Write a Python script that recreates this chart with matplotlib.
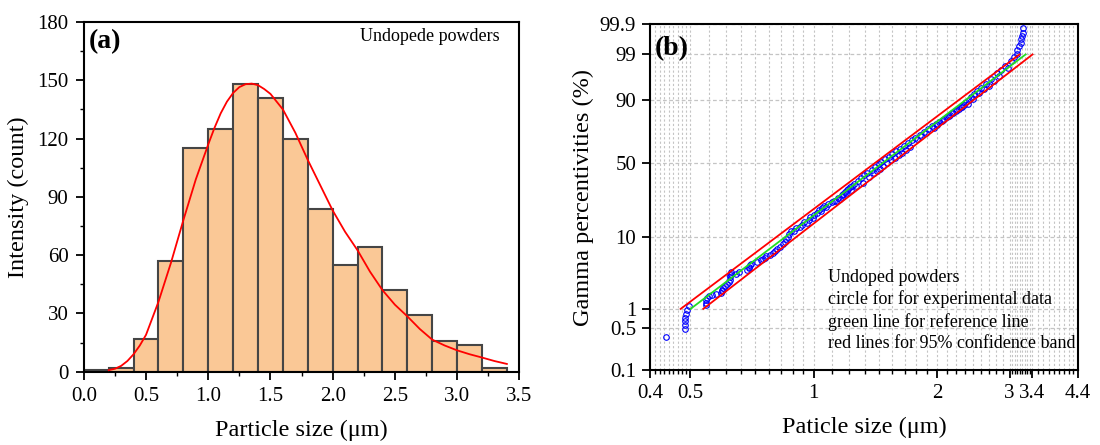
import numpy as np
import matplotlib
matplotlib.use('Agg')
import matplotlib.pyplot as plt
from matplotlib.ticker import FixedLocator, FixedFormatter, NullLocator, NullFormatter
from statistics import NormalDist

plt.rcParams['font.family'] = 'serif'
plt.rcParams['font.serif'] = ['Liberation Serif', 'DejaVu Serif']
plt.rcParams['mathtext.fontset'] = 'stix'

# ---- (a) histogram data ----
bin_left = [0.0, 0.2, 0.4, 0.6, 0.8, 1.0, 1.2, 1.4, 1.6, 1.8, 2.0, 2.2, 2.4, 2.6, 2.8, 3.0, 3.2]
counts = [1, 2, 17, 57, 115, 125, 148, 141, 120, 84, 55, 64, 42, 29, 16, 14, 2]

# fitted curve
fit_x = [0.2, 0.25, 0.3, 0.35, 0.4, 0.45, 0.5, 0.6, 0.7, 0.8, 0.9, 1.0, 1.05, 1.1, 1.15, 1.2,
         1.25, 1.3, 1.35, 1.4, 1.45, 1.5, 1.6, 1.7, 1.8, 1.9, 2.0, 2.1, 2.2, 2.3, 2.4, 2.5,
         2.6, 2.7, 2.8, 2.9, 3.0, 3.1, 3.2, 3.3, 3.4]
fit_y = [0.8, 1.5, 3, 5.5, 9, 13.5, 19, 36, 56, 78, 99, 117, 125.5, 133, 139, 143.5,
         146.5, 148, 148.3, 147.5, 145.5, 143, 135, 123, 109, 96, 83, 72, 62.5, 51.5, 42, 34.5,
         28.5, 22, 16.5, 13.5, 11, 9, 7.3, 5.5, 4]

# ---- (b) gamma probability plot data ----
size_pts = [0.438, 0.488, 0.488, 0.488, 0.488, 0.489, 0.492, 0.497,
            0.546, 0.546, 0.547, 0.549, 0.556, 0.566, 0.578, 0.594, 0.598, 0.600, 0.603, 0.608,
            0.615, 0.622, 0.625, 0.626, 0.627, 0.628, 0.630, 0.647, 0.659, 0.690, 0.695, 0.697,
            0.700, 0.703, 0.730, 0.745, 0.755, 0.762, 0.768, 0.785, 0.797, 0.808, 0.815, 0.830,
            0.842, 0.850, 0.858, 0.865,
            0.870, 0.896, 0.908, 0.935, 0.948, 0.975, 0.982, 1.003, 1.018, 1.030, 1.050, 1.062,
            1.085, 1.110, 1.132, 1.160, 1.175, 1.172, 1.180, 1.192, 1.205, 1.215, 1.230, 1.242,
            1.255, 1.280, 1.305, 1.328, 1.352, 1.385, 1.412, 1.440, 1.462, 1.490, 1.525, 1.556,
            1.590, 1.625, 1.660, 1.695, 1.735, 1.770, 1.815, 1.855, 1.900, 1.940, 1.985, 2.020,
            2.050, 2.080, 2.110, 2.150, 2.190, 2.225, 2.255, 2.285, 2.320, 2.355, 2.390, 2.420,
            2.455, 2.500, 2.560, 2.625, 2.700, 2.790, 2.860, 2.930, 3.020, 3.080,
            3.12, 3.13, 3.17, 3.19, 3.20, 3.21, 3.225, 3.24,
            # second row of overlapping circles in the dense band
            0.880, 0.925, 0.962, 0.995, 1.040, 1.075, 1.120, 1.150, 1.200, 1.235, 1.268, 1.318,
            1.365, 1.400, 1.425, 1.452, 1.478, 1.505, 1.540, 1.575, 1.610, 1.645, 1.680, 1.715,
            1.790, 1.830, 1.880, 1.960, 2.000, 2.070, 2.130, 2.175, 2.240, 2.300, 2.370, 2.440,
            2.530, 2.600, 2.665, 2.750, 2.830, 2.980]
pct_pts = [0.35, 0.48, 0.56, 0.64, 0.73, 0.83, 0.97, 1.1,
           1.15, 1.25, 1.38, 1.48, 1.55, 1.62, 1.66, 1.72, 1.85, 1.95, 2.1, 2.25,
           2.4, 2.55, 2.75, 2.95, 3.15, 3.35, 3.5, 3.35, 3.5, 3.7, 3.95, 4.15,
           4.4, 4.6, 4.8, 5.1, 5.3, 5.5, 5.8, 6.0, 6.4, 6.8, 7.2, 7.6,
           8.2, 8.8, 9.5, 10.2,
           11, 12, 13, 14, 15, 16, 17, 18, 19, 20, 21, 22,
           23, 24, 25, 26, 27, 28, 29, 30, 31, 32, 33, 34,
           35, 37, 39, 41, 43, 45, 47, 49, 51, 53, 55, 57,
           59, 61, 63, 65, 67, 69, 71, 73, 75, 76.5, 78, 79,
           80, 81, 82, 83, 84, 85, 86, 87, 88, 89, 90, 91,
           92, 93, 94, 95, 96, 97, 97.5, 98, 98.5, 98.8,
           99.0, 99.26, 99.44, 99.55, 99.65, 99.73, 99.79, 99.86,
           11.8, 13.2, 14.8, 16.5, 19.5, 21.5, 24.5, 26.5, 29.5, 31.5, 33.5, 36,
           40, 43, 44, 46, 48, 50, 52, 54, 56, 58, 60, 62,
           68, 70, 72, 75.5, 77.5, 80.5, 82.5, 84, 85.5, 87, 88.5, 90.5,
           92.5, 93.5, 94.5, 95.5, 96.5, 97.8]

ref_x = [0.502, 3.28]
ref_p = [1, 99]
band_hi_x = [0.475, 3.17]
band_lo_x = [0.539, 3.41]
band_p = [1, 99]

x_ticks = [0.4, 0.5, 1, 2, 3, 3.4, 4.4]
x_ticklabels = ['0.4', '0.5', '1', '2', '3', '3.4', '4.4']
p_ticks = [0.1, 0.5, 1, 10, 50, 90, 99, 99.9]
p_ticklabels = ['0.1', '0.5', '1', '10', '50', '90', '99', '99.9']

# gamma-percentile axis (log of gamma quantile, Wilson-Hilferty)
SHAPE = 7.5
nd = NormalDist()
_ppf = np.vectorize(nd.inv_cdf, otypes=[float])
_cdf = np.vectorize(nd.cdf, otypes=[float])


def p_forward(p):
    p = np.clip(np.asarray(p, dtype=float), 1e-4, 100 - 1e-4)
    z = _ppf(p / 100.0)
    u = 1 - 1 / (9 * SHAPE) + z / (3 * np.sqrt(SHAPE))
    return 3 * np.log(np.clip(u, 1e-6, None))


def p_inverse(y):
    u = np.exp(np.asarray(y, dtype=float) / 3)
    z = (u - 1 + 1 / (9 * SHAPE)) * 3 * np.sqrt(SHAPE)
    return 100 * _cdf(z)


fig = plt.figure(figsize=(11, 4.45), dpi=100)

# ---------- (a) ----------
ax1 = fig.add_axes([0.0762, 0.1647, 0.3959, 0.7858])
ax1.bar(bin_left, counts, width=0.2, align='edge', color='#FAC896',
        edgecolor='#454545', linewidth=1.5, zorder=2)
ax1.plot(fit_x, fit_y, color='red', lw=1.3, zorder=3)
ax1.set_xlim(0, 3.5)
ax1.set_ylim(0, 180)
ax1.set_xticks(np.arange(0, 3.51, 0.5))
ax1.set_xticks(np.arange(0.25, 3.5, 0.5), minor=True)
ax1.set_yticks(np.arange(0, 181, 30))
ax1.set_yticks(np.arange(15, 180, 30), minor=True)
ax1.xaxis.set_major_formatter(plt.FormatStrFormatter('%.1f'))
ax1.tick_params(which='major', direction='out', length=6, width=1.3, labelsize=15, pad=5)
ax1.tick_params(which='minor', direction='out', length=3, width=1.0)
for s in ax1.spines.values():
    s.set_linewidth(1.5)
ax1.set_xlabel('Particle size (μm)', fontsize=17.5, labelpad=10)
ax1.set_ylabel('Intensity (count)', fontsize=17.5, labelpad=6)
ax1.text(0.012, 0.945, '(a)', transform=ax1.transAxes, fontsize=20, fontweight='bold',
         va='center', ha='left')
ax1.text(0.955, 0.96, 'Undopede powders', transform=ax1.transAxes, fontsize=13,
         va='center', ha='right')

# ---------- (b) ----------
ax2 = fig.add_axes([0.5909, 0.1685, 0.3891, 0.7775])
ax2.set_xscale('log')
ax2.set_yscale('function', functions=(p_forward, p_inverse))
ax2.set_xlim(0.4, 4.4)
ax2.set_ylim(0.1, 99.9)

minor_x = []
for a, b in zip(x_ticks[:-1], x_ticks[1:]):
    for k in range(1, 9):
        minor_x.append(a + (b - a) * k / 9)
ax2.xaxis.set_major_locator(FixedLocator(x_ticks))
ax2.xaxis.set_major_formatter(FixedFormatter(x_ticklabels))
ax2.xaxis.set_minor_locator(FixedLocator(minor_x))
ax2.xaxis.set_minor_formatter(NullFormatter())
ax2.yaxis.set_major_locator(FixedLocator(p_ticks))
ax2.yaxis.set_major_formatter(FixedFormatter(p_ticklabels))
ax2.yaxis.set_minor_locator(NullLocator())

ax2.grid(True, axis='x', which='both', color='#c4c4c4', ls=(0, (2, 2)), lw=0.8, zorder=0)
ax2.grid(True, axis='y', which='major', color='#c4c4c4', ls=(0, (3, 2)), lw=0.9, zorder=0)

ax2.plot(band_hi_x, band_p, color='red', lw=1.3, zorder=4)
ax2.plot(band_lo_x, band_p, color='red', lw=1.3, zorder=4)
ax2.plot(ref_x, ref_p, color='#22dd22', lw=1.3, zorder=4)
ax2.plot(size_pts, pct_pts, ls='none', marker='o', ms=4.0, mfc='none', mec='blue',
         mew=0.8, zorder=3)

ax2.tick_params(which='major', direction='out', length=6, width=1.3, labelsize=15, pad=4)
ax2.tick_params(which='minor', direction='out', length=3, width=1.0)
for s in ax2.spines.values():
    s.set_linewidth(1.5)
ax2.set_xlabel('Paticle size (μm)', fontsize=17.5, labelpad=10)
ax2.set_ylabel('Gamma percentivities (%)', fontsize=17.5, labelpad=4)
ax2.text(0.012, 0.93, '(b)', transform=ax2.transAxes, fontsize=20, fontweight='bold',
         va='center', ha='left')
ax2.text(0.416, 0.172, 'Undoped powders\ncircle for for experimental data\n'
         'green line for reference line\nred lines for 95% confidence band',
         transform=ax2.transAxes, fontsize=13, va='center', ha='left', linespacing=1.32)

fig.savefig('out.png', dpi=100)
